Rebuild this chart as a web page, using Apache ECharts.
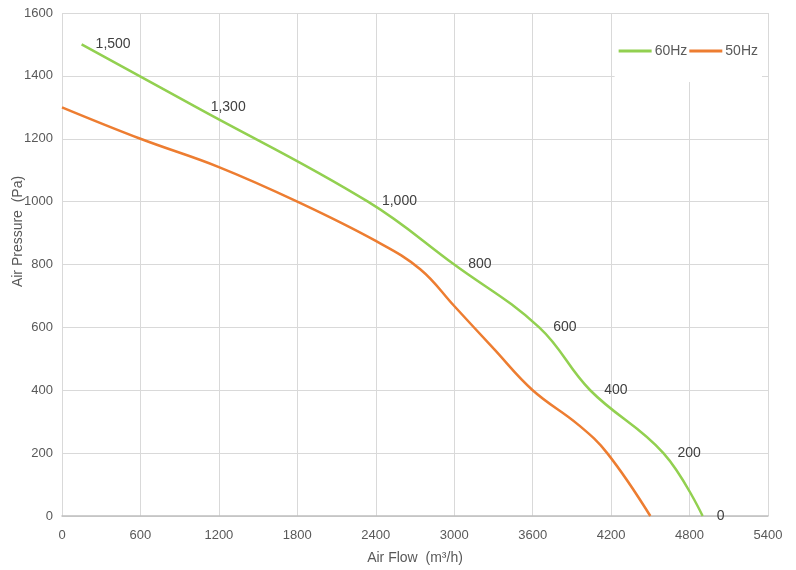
<!DOCTYPE html>
<html>
<head>
<meta charset="utf-8">
<script src="https://cdn.jsdelivr.net/npm/echarts@6/dist/echarts.min.js"></script>
<style>
    html, body { margin: 0; padding: 0; background: #fff; }
    #chart_container { width: 796px; height: 570px; }
</style>
</head>
<body>
<div id="chart_container"></div>
<script>
// 风量-风压曲线
var seriesNames = ['60Hz', '50Hz']
var flow60 = [150, 1030, 2340, 3000, 3650, 4040, 4600, 4900]
var pressure60 = [1500, 1300, 1000, 800, 600, 400, 200, 0]
var flow50 = [0, 600, 1200, 1800, 2400, 2740, 3000, 3300, 3600, 3950, 4170, 4500]
var pressure50 = [1300, 1200, 1110, 1000, 875, 785, 668, 533, 400, 290, 200, 0]
var xTicks = [0, 600, 1200, 1800, 2400, 3000, 3600, 4200, 4800, 5400]

function pairs (xs, ys) {
    let arr = []
    for (let i = 0; i < xs.length; i++) arr.push([xs[i], ys[i]])
    return arr
}

var labelFont = 'Liberation Sans, Arial, Helvetica, sans-serif'
var chart = echarts.init(document.getElementById('chart_container'))
var option = {
    animation: false,
    textStyle: { fontFamily: labelFont },
    grid: { left: 62, right: 28, top: 13, bottom: 54, containLabel: false, outerBoundsMode: 'none' },
    legend: {
        data: seriesNames,
        right: 34, top: 14,
        padding: [30, 4, 24, 4],
        backgroundColor: '#fff',
        itemWidth: 33, itemHeight: 3, itemGap: 2,
        icon: 'rect',
        textStyle: { color: '#595959', fontSize: 14, padding: [0, 0, 0, -2] }
    },
    xAxis: {
        type: 'value', min: 0, max: xTicks[xTicks.length - 1], interval: 600,
        name: 'Air Flow  (m³/h)', nameLocation: 'middle', nameGap: 35,
        nameTextStyle: { color: '#595959', fontSize: 14 },
        axisLine: { show: true, lineStyle: { color: '#bfbfbf', width: 1.5 } },
        axisTick: { show: false },
        axisLabel: { color: '#595959', fontSize: 13, margin: 13, formatter: v => String(v) },
        splitLine: { lineStyle: { color: '#d9d9d9' } }
    },
    yAxis: {
        type: 'value', min: 0, max: 1600, interval: 200,
        name: 'Air Pressure  (Pa)', nameLocation: 'middle', nameGap: 37, nameMoveOverlap: false,
        nameTextStyle: { color: '#595959', fontSize: 14, padding: [0, 0, 0, 66] },
        axisLine: { show: false },
        axisTick: { show: false },
        axisLabel: { color: '#595959', fontSize: 13, margin: 9, formatter: v => String(v) },
        splitLine: { lineStyle: { color: '#d9d9d9' } }
    },
    series: [
        {
            name: seriesNames[0], type: 'line', smooth: 0.4,
            data: pairs(flow60, pressure60),
            symbol: 'circle', symbolSize: 0, showSymbol: true,
            color: '#92d050',
            lineStyle: { width: 2.5, color: '#92d050' },
            label: {
                show: true, position: 'right', distance: 14,
                color: '#404040', fontSize: 14,
                formatter: p => p.value[1].toLocaleString('en-US')
            }
        },
        {
            name: seriesNames[1], type: 'line', smooth: 0.4,
            data: pairs(flow50, pressure50),
            symbol: 'none',
            color: '#ed7d31',
            lineStyle: { width: 2.5, color: '#ed7d31' }
        }
    ]
}
chart.setOption(option)
</script>
</body>
</html>
